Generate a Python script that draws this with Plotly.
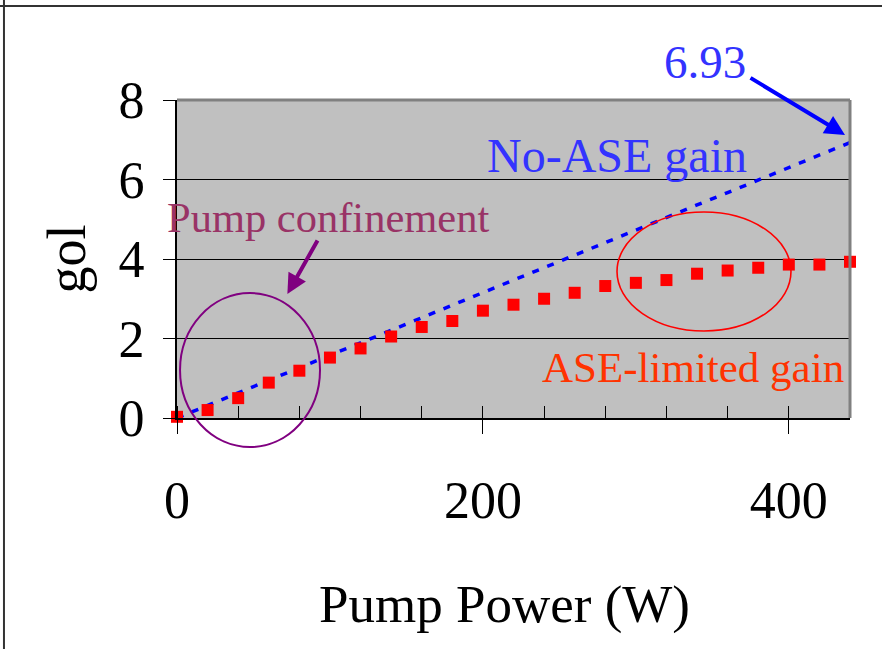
import plotly.graph_objects as go

# Pump power (W) at each sample
pump_power = [0, 20, 40, 60, 80, 100, 120, 140, 160, 180, 200, 220,
              240, 260, 280, 300, 320, 340, 360, 380, 400, 420, 440]

# Small-signal gain without amplified spontaneous emission
no_ase_gain = [0.00, 0.32, 0.63, 0.95, 1.26, 1.58, 1.89, 2.21, 2.52, 2.84, 3.15, 3.47,
               3.78, 4.10, 4.41, 4.73, 5.04, 5.36, 5.67, 5.99, 6.30, 6.62, 6.93]

# Gain limited by amplified spontaneous emission
ase_limited_gain = [0.03, 0.20, 0.50, 0.89, 1.19, 1.52, 1.75, 2.05, 2.29, 2.44, 2.70, 2.85,
                    3.00, 3.15, 3.32, 3.40, 3.47, 3.63, 3.71, 3.78, 3.86, 3.86, 3.93]

x_ticks = [0, 200, 400]
y_ticks = [0, 2, 4, 6, 8]
end_label = "6.93"

SERIF = "Liberation Serif, Times New Roman, serif"

fig = go.Figure()

fig.add_trace(go.Scatter(
    x=pump_power, y=no_ase_gain, mode="lines",
    line=dict(color="#0000ff", width=3.5, dash="7px,9px"),
    hoverinfo="skip", showlegend=False,
))

fig.add_trace(go.Scatter(
    x=pump_power, y=ase_limited_gain, mode="markers",
    marker=dict(symbol="square", size=12, color="#ff0000"),
    cliponaxis=False, showlegend=False,
))

shapes = [
    # plot-area top and right borders
    dict(type="line", xref="paper", yref="paper", x0=0, x1=1, y0=1, y1=1,
         line=dict(color="#808080", width=3)),
    dict(type="line", xref="paper", yref="paper", x0=1, x1=1, y0=0, y1=1,
         line=dict(color="#808080", width=3)),
    # outer frame (top and left edges)
    dict(type="line", xref="paper", yref="paper", x0=-0.27, x1=1.06, y0=1.2956, y1=1.2956,
         line=dict(color="#333333", width=2)),
    dict(type="line", xref="paper", yref="paper", x0=-0.2571, x1=-0.2571, y0=-0.74, y1=1.32,
         line=dict(color="#333333", width=2)),
    # highlight ellipses
    dict(type="circle", xref="paper", yref="paper", x0=0.0045, x1=0.2125, y0=-0.0912, y1=0.393,
         line=dict(color="#800080", width=2)),
    dict(type="circle", xref="paper", yref="paper", x0=0.6538, x1=0.9123, y0=0.2736, y1=0.6478,
         line=dict(color="#ff0000", width=1.6)),
]

annotations = [
    dict(text=end_label, x=0.7845, y=1.121, xref="paper", yref="paper",
         xanchor="center", yanchor="middle",
         showarrow=False, font=dict(family=SERIF, size=47, color="#3333ff")),
    # arrow to the end of the no-ASE line
    dict(x=0.9926, y=0.89, xref="paper", yref="paper", ax=-96, ay=-58,
         showarrow=True, arrowhead=2, arrowsize=1.0, arrowwidth=4, arrowcolor="#0000ff",
         text=""),
    dict(text="No-ASE gain", x=0.6538, y=0.824, xref="paper", yref="paper",
         xanchor="center", yanchor="middle",
         showarrow=False, font=dict(family=SERIF, size=48, color="#3333ff")),
    dict(text="Pump confinement", x=0.2244, y=0.629, xref="paper", yref="paper",
         xanchor="center", yanchor="middle",
         showarrow=False, font=dict(family=SERIF, size=42.5, color="#993366")),
    dict(x=0.164, y=0.39, xref="paper", yref="paper", ax=31, ay=-55,
         showarrow=True, arrowhead=2, arrowsize=1.0, arrowwidth=4, arrowcolor="#800080",
         text=""),
    dict(text="ASE-limited gain", x=0.7667, y=0.1588, xref="paper", yref="paper",
         xanchor="center", yanchor="middle",
         showarrow=False, font=dict(family=SERIF, size=43, color="#ff3300")),
    # x-axis title
    dict(text="Pump Power (W)", x=0.4859, y=-0.585, xref="paper", yref="paper",
         xanchor="center", yanchor="middle",
         showarrow=False, font=dict(family=SERIF, size=53, color="black")),
]

fig.update_layout(
    width=882, height=649,
    margin=dict(l=177, r=32, t=100, b=231),
    paper_bgcolor="white",
    plot_bgcolor="#c0c0c0",
    font=dict(family=SERIF, color="black"),
    shapes=shapes,
    annotations=annotations,
    showlegend=False,
)

fig.update_xaxes(
    range=[0, 440], tickvals=x_ticks, ticktext=[str(v) for v in x_ticks],
    showgrid=False, zeroline=False,
    showline=True, linecolor="black", linewidth=2,
    ticks="outside", ticklen=14, tickwidth=1, tickcolor="black",
    minor=dict(dtick=40, tick0=0, ticks="inside", ticklen=12, tickwidth=1, tickcolor="black",
               showgrid=False),
    tickfont=dict(family=SERIF, size=52, color="black"),
    ticklabelstandoff=22,
)

fig.update_yaxes(
    range=[0, 8], tickvals=y_ticks, ticktext=[str(v) for v in y_ticks],
    showgrid=True, gridcolor="black", gridwidth=1, zeroline=False,
    showline=True, linecolor="black", linewidth=2,
    ticks="outside", ticklen=12, tickwidth=1, tickcolor="black",
    tickfont=dict(family=SERIF, size=52, color="black"),
    ticklabelstandoff=8,
    title=dict(text="gol", font=dict(family=SERIF, size=54, color="black"), standoff=16),
)

fig.write_html("out.html")
